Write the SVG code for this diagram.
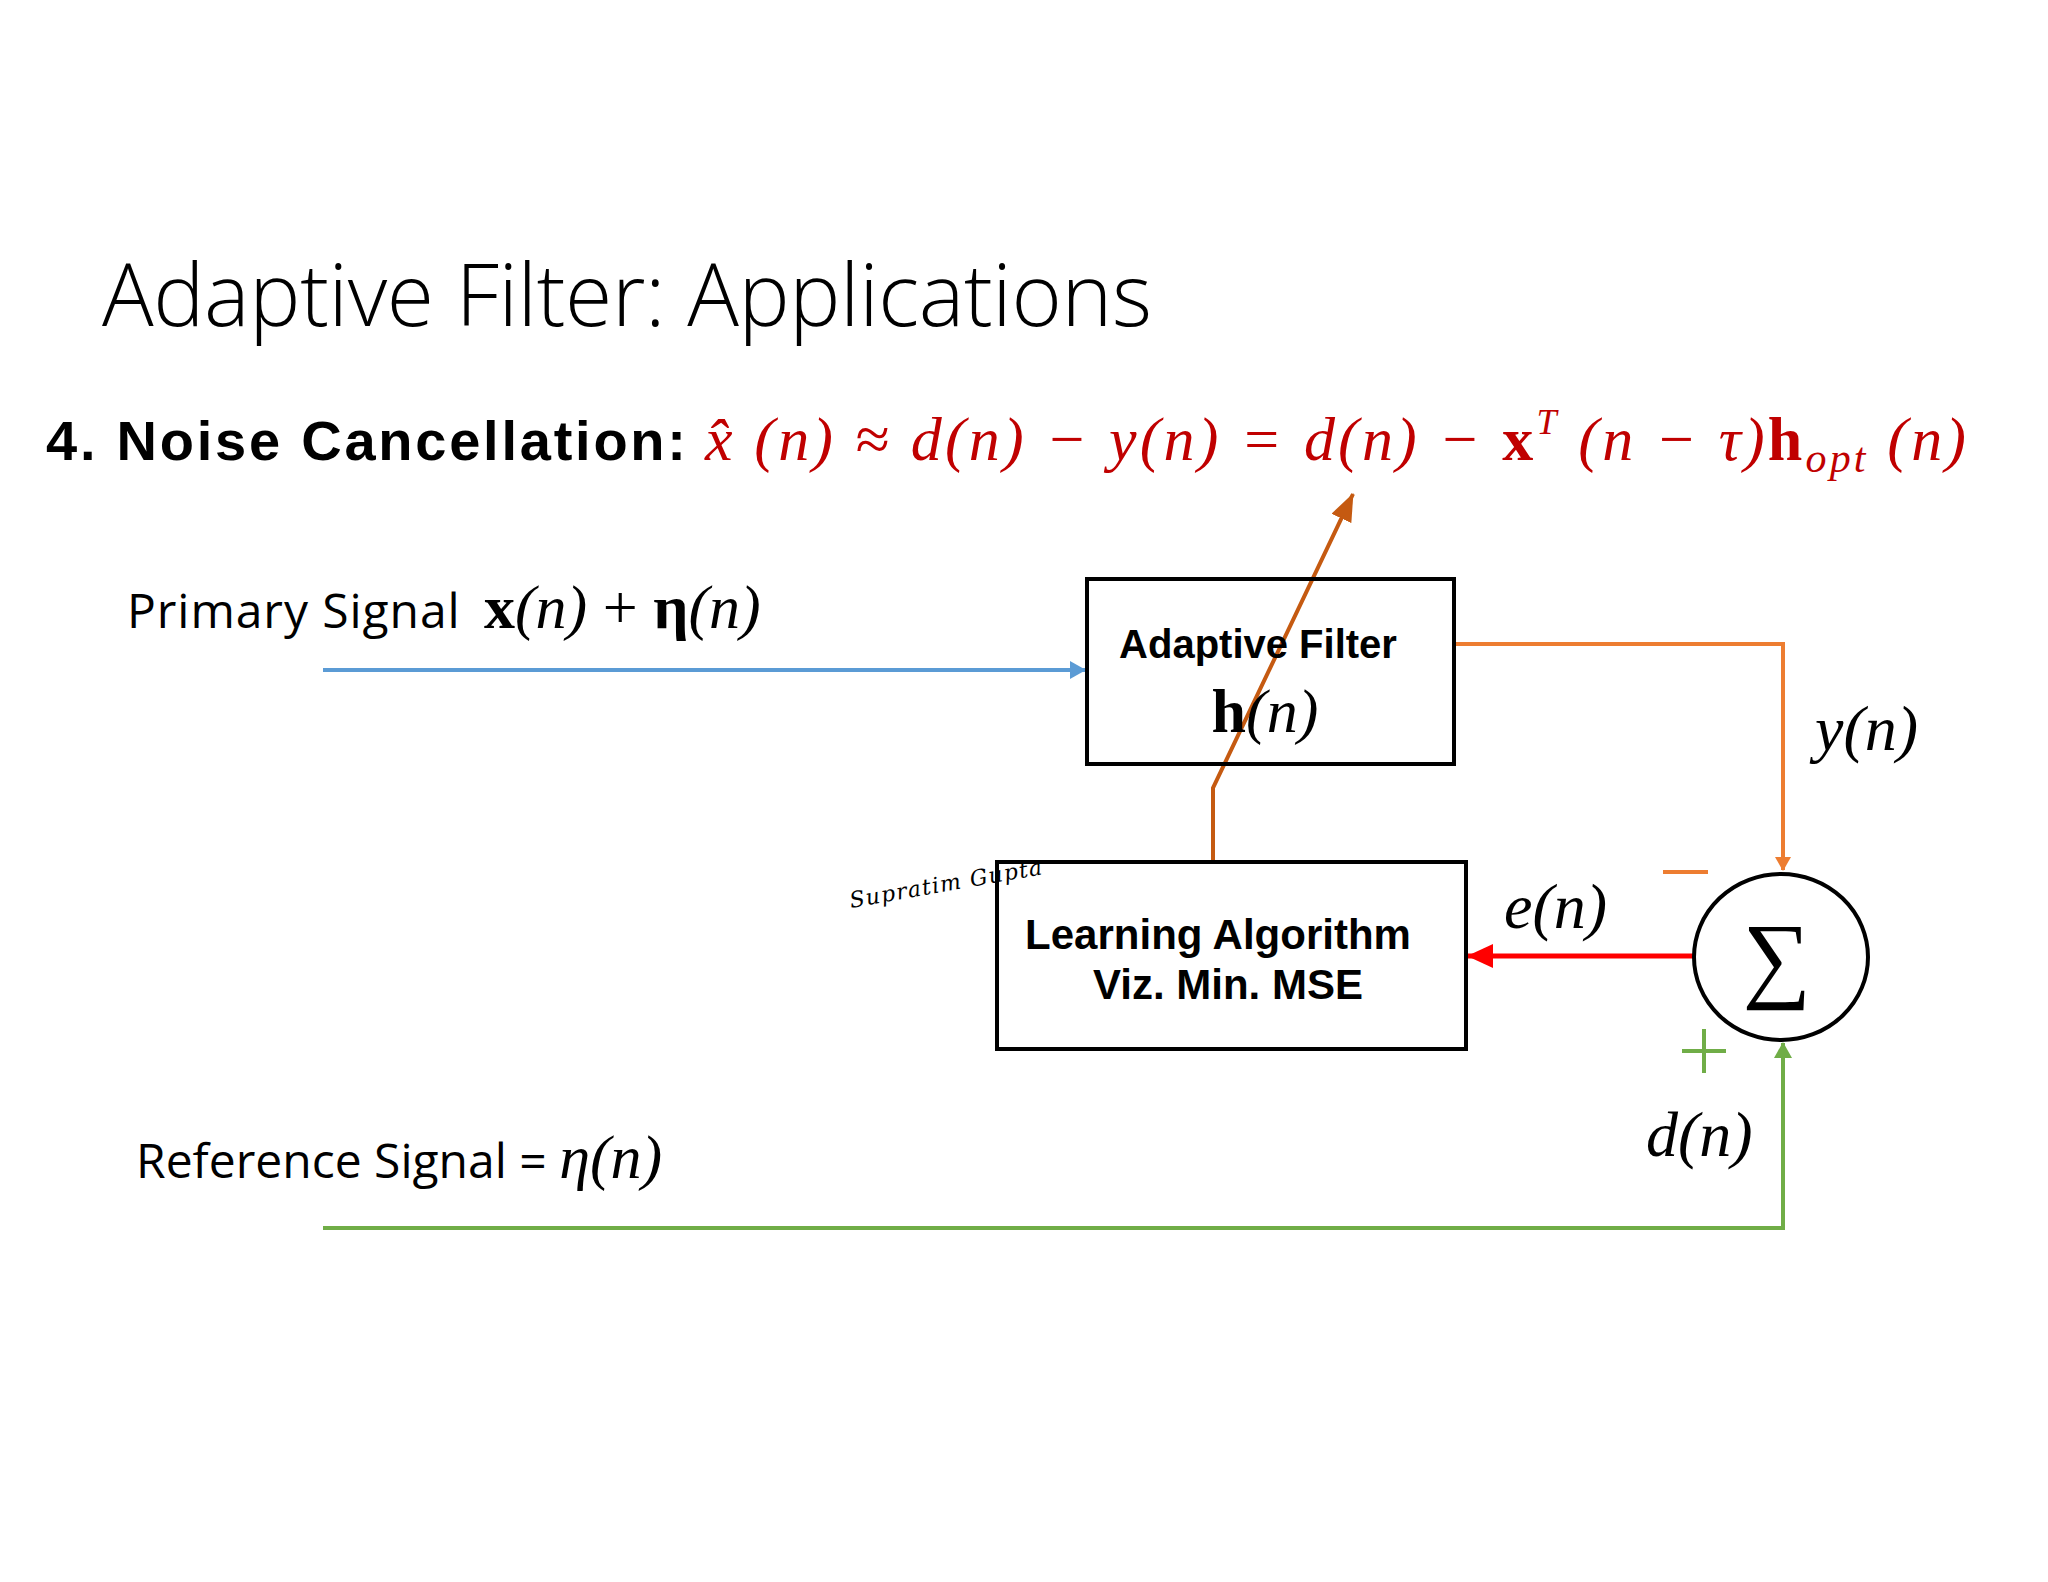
<svg xmlns="http://www.w3.org/2000/svg" width="2048" height="1582" viewBox="0 0 2048 1582">
<style>
.box{fill:none;stroke:#000;stroke-width:4}
.m{font-family:"Liberation Serif",serif;font-style:italic}
.b{font-family:"Liberation Sans",Arial,sans-serif;font-weight:bold}
.c{font-family:"Open Sans","Liberation Sans",sans-serif}
.red{fill:#c00000}
</style>
<defs>
<marker id="ab" markerWidth="16" markerHeight="18" refX="15" refY="9" orient="auto" markerUnits="userSpaceOnUse" viewBox="0 0 16 18"><path d="M0,0L16,9L0,18z" fill="#5b9bd5"/></marker>
<marker id="ao" markerWidth="14" markerHeight="16" refX="13" refY="8" orient="auto" markerUnits="userSpaceOnUse" viewBox="0 0 14 16"><path d="M0,0L14,8L0,16z" fill="#ed7d31"/></marker>
<marker id="ar" markerWidth="26" markerHeight="24" refX="25" refY="12" orient="auto" markerUnits="userSpaceOnUse" viewBox="0 0 26 24"><path d="M0,0L26,12L0,24z" fill="#ff0000"/></marker>
<marker id="ag" markerWidth="16" markerHeight="18" refX="15" refY="9" orient="auto" markerUnits="userSpaceOnUse" viewBox="0 0 16 18"><path d="M0,0L16,9L0,18z" fill="#70ad47"/></marker>
<marker id="an" markerWidth="28" markerHeight="22" refX="27" refY="11" orient="auto" markerUnits="userSpaceOnUse" viewBox="0 0 28 22"><path d="M0,0L28,11L0,22z" fill="#c55a11"/></marker>
</defs>
<rect width="2048" height="1582" fill="#fff"/>
<text x="102" y="326" class="c" font-weight="300" font-size="86" textLength="1050">Adaptive Filter: Applications</text>
<text x="46" y="460" class="b" font-size="56" textLength="640">4.  Noise Cancellation:</text>
<text x="705" y="460" class="m red" font-size="62" textLength="1261">x̂ (n) ≈ d(n) − y(n) = d(n) − <tspan font-style="normal" font-weight="bold">x</tspan><tspan font-size="36" dy="-26">T</tspan><tspan dy="26"> (n − τ)</tspan><tspan font-style="normal" font-weight="bold">h</tspan><tspan font-size="42" dy="12">opt</tspan><tspan dy="-12"> (n)</tspan></text>

<g id="connectors" fill="none" stroke-width="4">
<path d="M323,670H1085" stroke="#5b9bd5" marker-end="url(#ab)"/>
<path d="M1454,644H1783V870" stroke="#ed7d31" marker-end="url(#ao)"/>
<path d="M1694,956H1468" stroke="#ff0000" stroke-width="5" marker-end="url(#ar)"/>
<path d="M323,1228H1783V1043" stroke="#70ad47" marker-end="url(#ag)"/>
<path d="M1213,862V788L1353,494" stroke="#c55a11" marker-end="url(#an)"/>
</g>

<g id="primary"><text x="127" y="628" class="c" font-size="48"><tspan textLength="346">Primary Signal </tspan><tspan font-size="62" font-family="Liberation Serif" font-weight="bold" dx="10">x</tspan><tspan class="m" font-size="62">(n)</tspan><tspan font-size="62" font-family="Liberation Serif"> + </tspan><tspan font-size="62" font-family="Liberation Serif" font-weight="bold">η</tspan><tspan class="m" font-size="62">(n)</tspan></text></g>
<g id="reference"><text x="136" y="1178" class="c" font-size="48">Reference Signal = <tspan class="m" font-size="62">η(n)</tspan></text></g>

<g id="adaptive-filter">
<rect x="1087" y="579" width="367" height="185" class="box"/>
<text x="1258" y="658" class="b" font-size="40" text-anchor="middle">Adaptive Filter</text>
<text x="1265" y="732" font-family="Liberation Serif" font-size="62" text-anchor="middle"><tspan font-weight="bold">h</tspan><tspan font-style="italic">(n)</tspan></text>
</g>
<g id="learning">
<rect x="997" y="862" width="469" height="187" class="box"/>
<text x="1218" y="949" class="b" font-size="42" text-anchor="middle">Learning Algorithm</text>
<text x="1228" y="999" class="b" font-size="42" text-anchor="middle">Viz. Min. MSE</text>
</g>
<g id="sum">
<ellipse cx="1781" cy="957" rx="87" ry="83" fill="none" stroke="#000" stroke-width="4"/>
<text x="1777" y="990" font-family="Liberation Serif" font-size="96" text-anchor="middle">∑</text>
</g>
<text x="1815" y="750" class="m" font-size="64">y(n)</text>
<text x="1504" y="928" class="m" font-size="64">e(n)</text>
<text x="1646" y="1156" class="m" font-size="64">d(n)</text>
<path d="M1663,872H1708" stroke="#ed7d31" stroke-width="4"/>
<path d="M1682,1051H1726M1704,1029V1073" stroke="#70ad47" stroke-width="4"/>
<text x="851" y="908" font-family="DejaVu Serif" font-style="italic" font-size="22" textLength="195" transform="rotate(-10 851 908)">Supratim Gupta</text>
</svg>
